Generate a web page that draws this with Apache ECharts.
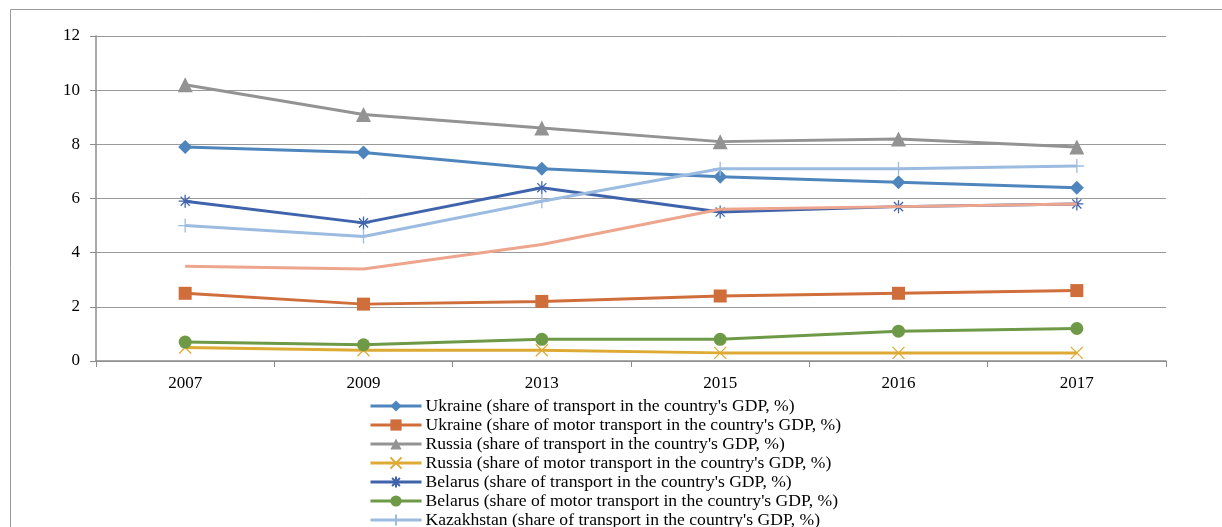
<!DOCTYPE html>
<html>
<head>
<meta charset="utf-8">
<script src="https://cdn.jsdelivr.net/npm/echarts@6/dist/echarts.min.js"></script>
<style>
html,body{margin:0;padding:0;background:#fff;}
#main{width:1222px;height:527px;}
</style>
</head>
<body>
<div id="main"></div>
<script>
var years = ['2007', '2009', '2013', '2015', '2016', '2017'];
var yTicks = [0, 2, 4, 6, 8, 10, 12];
var seriesNames = [
  "Ukraine (share of transport in the country's GDP, %)",
  "Ukraine (share of motor transport in the country's GDP, %)",
  "Russia (share of transport in the country's GDP, %)",
  "Russia (share of motor transport in the country's GDP, %)",
  "Belarus (share of transport in the country's GDP, %)",
  "Belarus (share of motor transport in the country's GDP, %)",
  "Kazakhstan (share of transport in the country's GDP, %)",
  "Kazakhstan (share of motor transport in the country's GDP, %)"
];
var ukraineTransport = [7.9, 7.7, 7.1, 6.8, 6.6, 6.4];
var ukraineMotor = [2.5, 2.1, 2.2, 2.4, 2.5, 2.6];
var russiaTransport = [10.2, 9.1, 8.6, 8.1, 8.2, 7.9];
var russiaMotor = [0.5, 0.4, 0.4, 0.3, 0.3, 0.3];
var belarusTransport = [5.9, 5.1, 6.4, 5.5, 5.7, 5.8];
var belarusMotor = [0.7, 0.6, 0.8, 0.8, 1.1, 1.2];
var kazakhstanTransport = [5.0, 4.6, 5.9, 7.1, 7.1, 7.2];
var kazakhstanMotor = [3.5, 3.4, 4.3, 5.6, 5.7, 5.8];

var dataList = [ukraineTransport, ukraineMotor, russiaTransport, russiaMotor,
  belarusTransport, belarusMotor, kazakhstanTransport, kazakhstanMotor];
var colors = ['#4F85BD', '#CF6E3B', '#939393', '#DDAA33', '#3F64AC', '#6E9A47', '#9CBBE0', '#EEA58D'];
var X_PATH = 'path://M0,0L10,10M10,0L0,10';
var STAR_PATH = 'path://M5,0L5,10M0,5L10,5M1.5,1.5L8.5,8.5M8.5,1.5L1.5,8.5';
var PLUS_PATH = 'path://M5,0L5,10M0,5L10,5';
var symbols = ['diamond', 'rect', 'triangle', X_PATH, STAR_PATH, 'circle', PLUS_PATH, 'none'];
var symSizes = [14, 13, 15, 12, 13, 13, 14, 0];
var strokeSym = [false, false, false, true, true, false, true, false];

var FONT = '"Liberation Serif", "Times New Roman", serif';

var series = dataList.map(function (d, i) {
  var s = {
    name: seriesNames[i],
    type: 'line',
    data: d,
    symbol: symbols[i],
    symbolSize: symSizes[i],
    showSymbol: symbols[i] !== 'none',
    lineStyle: { color: colors[i], width: 3 },
    emphasis: { disabled: true },
    animation: false,
    z: 2 + i
  };
  if (strokeSym[i]) {
    s.itemStyle = { color: 'rgba(0,0,0,0)', borderColor: colors[i], borderWidth: 1.3 };
  } else {
    s.itemStyle = { color: colors[i], borderWidth: 0 };
  }
  return s;
});

var chart = echarts.init(document.getElementById('main'));
chart.setOption({
  animation: false,
  backgroundColor: '#fff',
  graphic: [{
    type: 'rect',
    shape: { x: 10.5, y: 9.5, width: 1400, height: 700 },
    style: { fill: 'none', stroke: '#9a9a9a', lineWidth: 1 },
    silent: true,
    z: 0
  }],
  grid: { left: 96, right: 56, top: 36, bottom: 166 },
  legend: {
    orient: 'vertical',
    left: 364,
    top: 392,
    height: 400,
    padding: 5,
    itemWidth: 51,
    itemHeight: 14,
    itemGap: 1,
    lineStyle: { width: 3 },
    textStyle: { fontFamily: FONT, fontSize: 17.6, color: '#000', lineHeight: 17, padding: [0, 0, 0, -1] },
    data: seriesNames
  },
  xAxis: {
    type: 'category',
    data: years,
    boundaryGap: true,
    axisLine: { lineStyle: { color: '#8c8c8c', width: 1.5 } },
    axisTick: { show: true, length: 6, lineStyle: { color: '#8c8c8c', width: 1 } },
    axisLabel: { fontFamily: FONT, fontSize: 17, color: '#000', margin: 14 },
    splitLine: { show: false }
  },
  yAxis: {
    type: 'value',
    min: 0,
    max: 12,
    interval: 2,
    axisLine: { show: true, lineStyle: { color: '#8c8c8c', width: 1.5 } },
    axisTick: { show: true, length: 6, lineStyle: { color: '#8c8c8c' } },
    axisLabel: {
      fontFamily: FONT, fontSize: 17, color: '#000', margin: 16,
      formatter: function (v) { return yTicks.indexOf(v) >= 0 ? String(v) : ''; }
    },
    splitLine: { lineStyle: { color: '#9a9a9a', width: 1 } }
  },
  series: series
});
</script>
</body>
</html>
